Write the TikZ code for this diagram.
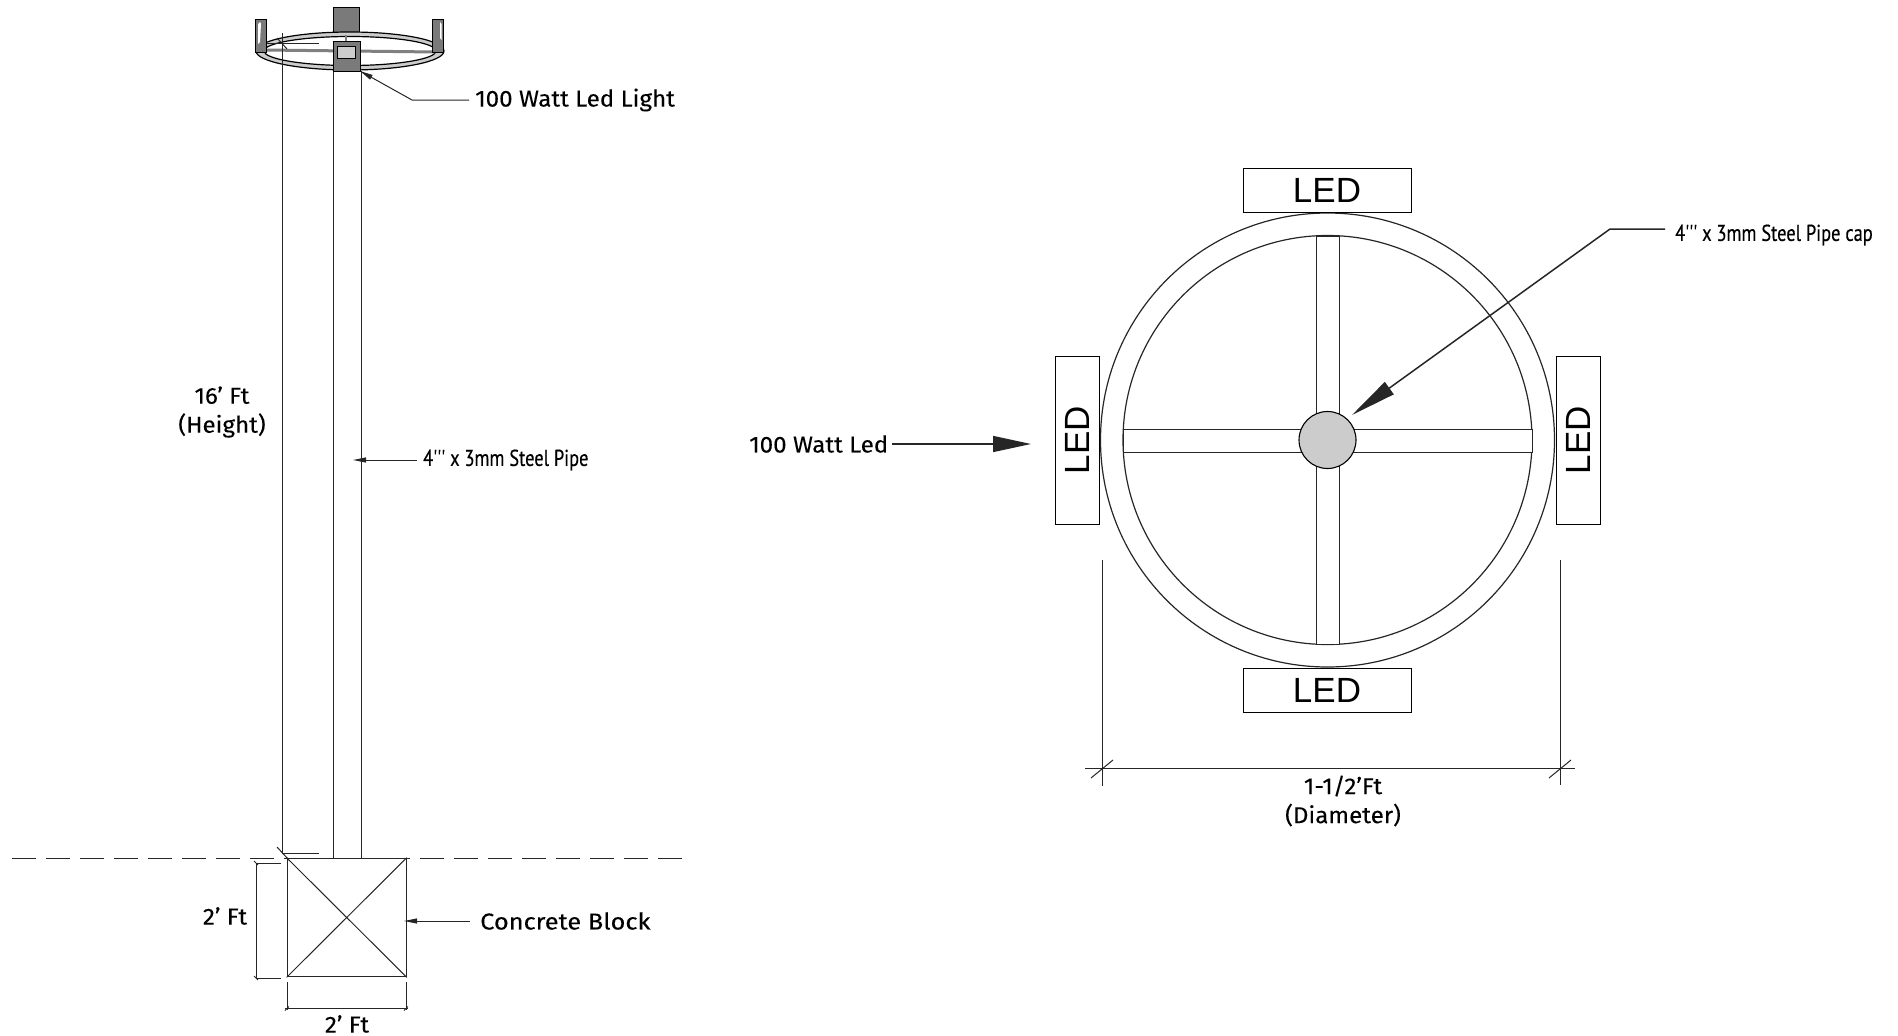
\documentclass[tikz,border=0pt]{standalone}
\usepackage{fontspec}
\setmainfont[FakeBold=0.12]{Fira Sans}
\newfontfamily\condfont[FakeBold=0.4]{PT Sans}
\newfontfamily\ledfont{Liberation Sans}
\usetikzlibrary{arrows.meta}
\tikzset{
  ln/.style={draw=black!85,line width=1pt},
  tip small/.style={-{Triangle[length=13pt,width=5pt]}},
  tip big/.style={-{Triangle[length=38pt,width=16pt]}},
  tip cap/.style={-{Triangle[length=46pt,width=15pt]}},
  lab/.style={font=\fontsize{23}{29}\selectfont,inner sep=0pt,align=center,xscale=1.05},
  cond/.style={font=\condfont\fontsize{23}{25}\selectfont,inner sep=0pt,xscale=0.8},
  led/.style={draw=black,line width=1pt,fill=white,inner sep=0pt,font=\ledfont\fontsize{35}{40}\selectfont},
  gr/.style={fill=black!52,draw=black,line width=1pt},
}
\begin{document}
\begin{tikzpicture}[x=1pt,y=-1pt]
\useasboundingbox (0,0) rectangle (1898,1036);
% lamp head
\fill[black!52,draw=black,line width=1pt] (333.5,7) rectangle (359.5,33);
\draw[fill=black!20,draw=black,line width=1.2pt,even odd rule] (350,51) ellipse [x radius=94,y radius=19] (350,51) ellipse [x radius=86,y radius=14.5];
\draw[black!50,line width=3pt] (264,50) -- (436,52);
\draw[black!50,line width=2.5pt] (346,35) -- (346,41);
\node[gr,minimum width=10.5pt,minimum height=33pt,inner sep=0pt] (sideL) at (261,35.5) {};
\node[gr,minimum width=10.5pt,minimum height=33pt,inner sep=0pt] (sideR) at (438,35.5) {};
\fill[white] (258,24) -- (260,22) -- (261,24) -- (260,42) -- (258,44) -- cycle;
\fill[white] (441.5,24) -- (440,22) -- (440,38) -- (441.5,40) -- cycle;
% pipe
\draw[ln] (333,71) -- (333,858) (361,71) -- (361,858);
\node[gr,minimum width=27pt,minimum height=30pt,inner sep=0pt] (lamp) at (346.5,56) {};
\node[draw=black,line width=1pt,fill=black!20,minimum width=18pt,minimum height=12pt,inner sep=0pt] (lens) at (346.5,52) {};
% height dimension
\coordinate (hT) at (282,33);
\coordinate (hB) at (282,853);
\draw[ln] (hT) -- (hB);
\draw[ln] (267,43) -- (319,43);
\draw[ln] (277,38) -- (287,49);
\draw[ln] (282,853) -- (319,853);
\draw[ln] (277,847) -- (288,859);
% ground
\draw[draw=black!85,line width=1pt,dash pattern=on 24pt off 10pt] (12,858) -- (682,858);
% block
\node[draw=black!85,line width=1.2pt,minimum width=119pt,minimum height=118.5pt,inner sep=0pt] (block) at (346.7,917.5) {};
\draw[ln] (block.north west) -- (block.south east) (block.north east) -- (block.south west);
% block dims
\draw[ln] (281,863) -- (256,863) -- (256,978) -- (281,978);
\draw[ln] (287,982) -- (287,1010) (406,982) -- (406,1010);
\draw[ln] (285,1008.5) -- (408,1008.5);
\draw[ln] (254,861) -- (258,865) (254,976) -- (258,980) (285,1010.5) -- (289,1006.5) (404,1010.5) -- (408,1006.5);
\node[lab] (t2a) at (225,916) {2' Ft};
\node[lab] (t2b) at (347,1024) {2' Ft};
\node[lab] (tH) at (222,412) {16' Ft\\(Height)};
% left labels
\node[lab,anchor=west] (tLamp) at (475,100) {100 Watt Led Light};
\coordinate (lampKnee) at (412,100);
\draw[ln,tip small] (469,100) -- (lampKnee) -- (360,71);
\node[cond,anchor=west] (tPipe) at (423,460) {4''' x 3mm Steel Pipe};
\draw[ln,tip small] (417,460) -- (353,460);
\node[lab,xscale=1.05,anchor=west] (tBlock) at (480,921) {Concrete Block};
\draw[ln,tip small] (470,921) -- (404,921);
% plan
\coordinate (c) at (1327.5,440);
\draw[ln,line width=1.2pt] (c) circle[radius=227];
\draw[ln,line width=1.2pt] (c) circle[radius=204.5];
\draw[ln,fill=white] (1123,429) rectangle (1532,452);
\draw[ln,fill=white] (1316,236) rectangle (1339,644);
\fill[white] (1316.5,429.5) rectangle (1338.5,451.5);
\node[circle,draw=black,fill=black!20,line width=1.1pt,minimum size=57pt,inner sep=0pt] (cap) at (c) {};
\node[led,minimum width=168pt,minimum height=44pt] (ledT) at (1327,190) {LED};
\node[led,minimum width=168pt,minimum height=44pt] (ledB) at (1327,690) {LED};
\node[led,minimum width=44pt,minimum height=168pt] (ledL) at (1077,440) {\rotatebox{90}{LED}};
\node[led,minimum width=44pt,minimum height=168pt] (ledR) at (1578,440) {\rotatebox{90}{LED}};
% plan labels
\node[lab,anchor=west] (tLed) at (749,444) {100 Watt Led};
\coordinate (ledTip) at (1031,444);
\draw[ln,line width=1.5pt,tip big] (892,444) -- (ledTip);
\node[cond,anchor=west] (tCap) at (1675,235) {4''' x 3mm Steel Pipe cap};
\coordinate (capKnee) at (1610,229);
\draw[ln,line width=1.5pt,tip cap] (1665,229) -- (capKnee) -- (1352,415);
% plan dim
\coordinate (dL) at (1102,768.5);
\coordinate (dR) at (1560,768.5);
\draw[ln] (1102,560) -- (1102,786) (1560,560) -- (1560,785);
\draw[ln] (1085,768.5) -- (1575,768.5);
\draw[ln] (1091,778) -- (1113,760) (1549,778) -- (1571,760);
\node[lab] (tD) at (1343,801) {1-1/2'Ft\\(Diameter)};
\end{tikzpicture}
\end{document}
